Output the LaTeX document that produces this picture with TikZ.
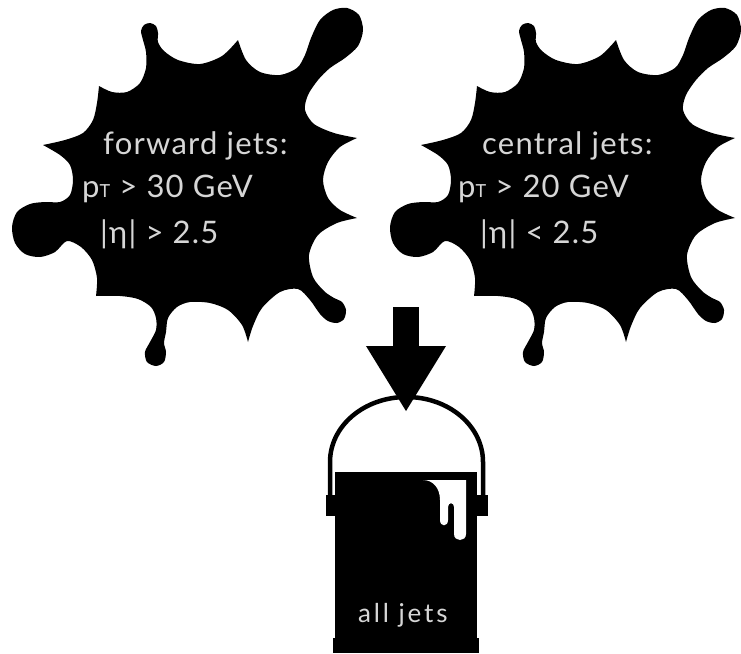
\documentclass[tikz,border=0pt]{standalone}
\usepackage{fontspec}
\setmainfont{Lato}
\newfontfamily\cutfont[LetterSpace=4]{Lato}
\newfontfamily\tagfont[LetterSpace=11]{Lato}
\usetikzlibrary{arrows.meta}
\newcommand{\pT}{p{\fontsize{18}{18}\selectfont T}}
\tikzset{
  % one splat, drawn spike to spike so the points stay sharp
  splat/.pic = {
    \fill[black]
      plot[smooth] coordinates {(99,86) (112,92) (127,92) (140,83) (146,68)
        (146,52) (143,40) (141,31) (144,25) (150,23) (156,26) (158,33)
        (158,42) (164,51) (178,60) (200,64) (222,56) (238,40)}
      -- plot[smooth] coordinates {(238,40) (246,60) (260,72) (280,75)
        (297,68) (305,55) (311,38) (320,20) (333,10) (347,8) (359,15)
        (363,30) (358,46) (345,58) (330,68) (318,80) (308,95) (305,110)
        (314,124) (334,133) (357,138)}
      -- plot[smooth] coordinates {(357,138) (340,147) (328,162) (323,180)
        (328,198) (340,210) (357,218)}
      -- plot[smooth] coordinates {(357,218) (337,223) (318,235) (309,255)
        (313,277) (324,291) (334,298) (342,302) (346,310) (344,319)
        (337,323) (328,321) (320,314) (310,300) (298,289) (280,292)
        (262,308) (253,326) (248,342)}
      -- plot[smooth] coordinates {(248,342) (242,325) (228,310) (210,303)
        (190,302) (177,307) (168,318) (166,332) (164,343) (166,352)
        (164,362) (156,366) (147,362) (145,352) (150,342) (156,330)
        (156,318) (151,307) (138,299) (120,296) (96,296)}
      -- plot[smooth] coordinates {(96,296) (97,278) (92,260) (81,247)
        (67,241) (55,252) (40,257) (25,254) (15,243) (12,227) (17,212)
        (30,204) (45,202) (60,202) (70,195) (73,180) (70,165) (60,155)
        (43,145)}
      -- plot[smooth] coordinates {(43,145) (65,140) (83,133) (93,120)
        (97,103) (99,86)}
      -- cycle;
  },
  cut/.style     = {text=black!16, inner sep=0pt, anchor=base west,
                    font=\cutfont\fontsize{31}{31}\selectfont},
  tag/.style     = {text=black!16, inner sep=0pt, anchor=base west,
                    font=\tagfont\fontsize{26}{26}\selectfont},
  pour/.style    = {line width=26pt, -{Triangle[width=75pt, length=66pt]}},
  handle/.style  = {line width=4.5pt, black},
}

\begin{document}
\begin{tikzpicture}[x=1pt, y=-1pt]
    \useasboundingbox (0,0) rectangle (741,653);

    \pic at (0,0)   {splat};
    \pic at (378,0) {splat};

    \node[cut] (fwdhead) at (103,154) {forward jets:};
    \node[cut] (fwdpt)   at (82,197)  {\pT{} > 30 GeV};
    \node[cut] (fwdeta)  at (100,243) {|η| > 2.5};
    \node[cut] (cenhead) at (482,154) {central jets:};
    \node[cut] (cenpt)   at (458,197) {\pT{} > 20 GeV};
    \node[cut] (ceneta)  at (480,243) {|η| < 2.5};

    % bucket
    \coordinate (spout) at (406,307);
    \coordinate (lid)   at (406,412);
    \draw[handle] (330,500) -- (330,462) .. controls (330,426) and (364,397) ..
        (406.5,397) .. controls (449,397) and (483,426) .. (483,462)
        -- (483,500);
    \fill (335,472) rectangle (477,653);
    \fill (333,638) rectangle (479,653);
    \fill (326,495) rectangle (338,516);
    \fill (475,495) rectangle (488,516);
    \fill[white] (423,480) -- (466,480) -- (466,534)
        .. controls (466,542) and (454,542) .. (454,534) -- (454,507)
        .. controls (454,502) and (448,502) .. (448,507) -- (448,520)
        .. controls (448,527) and (440,527) .. (440,520) -- (440,500)
        .. controls (440,488) and (433,480) .. (423,480) -- cycle;
    \node[tag] (all) at (358,622) {all jets};

    \draw[pour] (spout) -- (lid);
\end{tikzpicture}
\end{document}
